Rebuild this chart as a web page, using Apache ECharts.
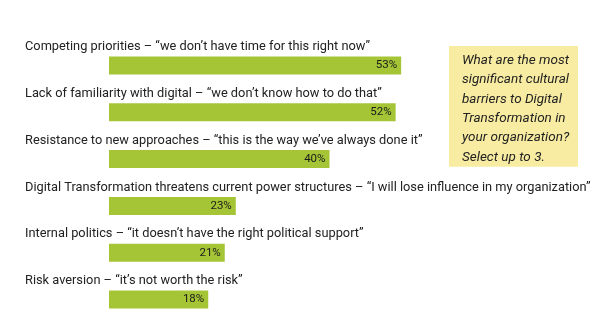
<!DOCTYPE html>
<html><head><meta charset="utf-8">
<script src="https://cdn.jsdelivr.net/npm/echarts@6/dist/echarts.min.js"></script>
<style>html,body{margin:0;padding:0;background:#fff}#c{width:600px;height:332px}</style>
</head><body><div id="c"></div>
<script>
var categories = [
  'Competing priorities \u2013 \u201cwe don\u2019t have time for this right now\u201d',
  'Lack of familiarity with digital \u2013 \u201cwe don\u2019t know how to do that\u201d',
  'Resistance to new approaches \u2013 \u201cthis is the way we\u2019ve always done it\u201d',
  'Digital Transformation threatens current power structures \u2013 \u201cI will lose influence in my organization\u201d',
  'Internal politics \u2013 \u201cit doesn\u2019t have the right political support\u201d',
  'Risk aversion \u2013 \u201cit\u2019s not worth the risk\u201d'
];
var values = [53, 52, 40, 23, 21, 18];
var questionText = 'What are the most\nsignificant cultural\nbarriers to Digital\nTransformation in\nyour organization?\nSelect up to 3.';

var chart = echarts.init(document.getElementById('c'));
chart.setOption({
  animation: false,
  title: {
    text: questionText,
    left: 449, top: 46,
    padding: [5, 8, 0, 13],
    backgroundColor: '#f8eca2',
    textStyle: {fontFamily: 'Roboto', fontStyle: 'italic', fontWeight: 'normal', fontSize: 13.5, lineHeight: 19.3, color: '#222', width: 108}
  },
  grid: {left: 109, width: 441, top: 42, bottom: 9},
  xAxis: {type: 'value', min: 0, max: 80, show: false},
  yAxis: {
    type: 'category', data: categories, inverse: true,
    axisLine: {show: false}, axisTick: {show: false}, splitLine: {show: false},
    axisLabel: {
      interval: 0, align: 'left', margin: 84,
      formatter: function (v) { return '{n|' + v + '}'; },
      rich: {
        n: {fontFamily: 'Roboto', fontSize: 12.8, color: '#222', padding: [0, 0, 37, 0]}
      }
    }
  },
  series: [{
    type: 'bar', data: values, barWidth: 18,
    itemStyle: {color: '#a5c536'},
    label: {show: true, position: 'insideRight', distance: 4, formatter: '{c}%', fontFamily: 'Roboto', fontSize: 11.5, color: '#1a1a1a'}
  }]
});
</script></body></html>
